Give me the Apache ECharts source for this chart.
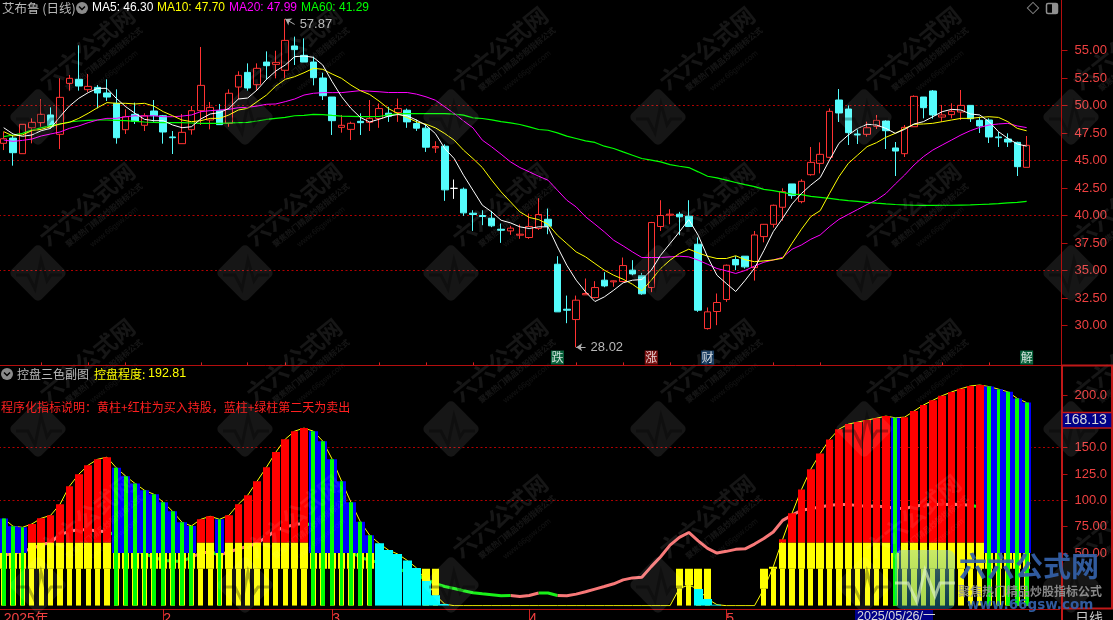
<!DOCTYPE html>
<html>
<head>
<meta charset="utf-8">
<style>html,body{margin:0;padding:0;background:#000;overflow:hidden}#c{width:1113px;height:620px}</style>
<script src="https://cdn.jsdelivr.net/npm/echarts@6/dist/echarts.min.js"></script>
</head>
<body>
<div id="c"></div>
<script>
var categories = [
'2025/01/03','2025/01/06','2025/01/07','2025/01/08','2025/01/09','2025/01/10','2025/01/13','2025/01/14','2025/01/15','2025/01/16','2025/01/17','2025/01/20','2025/01/21','2025/01/22','2025/01/23','2025/01/24','2025/01/27',
'2025/02/05','2025/02/06','2025/02/07','2025/02/10','2025/02/11','2025/02/12','2025/02/13','2025/02/14','2025/02/17','2025/02/18','2025/02/19','2025/02/20','2025/02/21','2025/02/24','2025/02/25','2025/02/26','2025/02/27','2025/02/28',
'2025/03/03','2025/03/04','2025/03/05','2025/03/06','2025/03/07','2025/03/10','2025/03/11','2025/03/12','2025/03/13','2025/03/14','2025/03/17','2025/03/18','2025/03/19','2025/03/20','2025/03/21','2025/03/24','2025/03/25','2025/03/26','2025/03/27','2025/03/28','2025/03/31',
'2025/04/01','2025/04/02','2025/04/03','2025/04/07','2025/04/08','2025/04/09','2025/04/10','2025/04/11','2025/04/14','2025/04/15','2025/04/16','2025/04/17','2025/04/18','2025/04/21','2025/04/22','2025/04/23','2025/04/24','2025/04/25','2025/04/28','2025/04/29','2025/04/30',
'2025/05/06','2025/05/07','2025/05/08','2025/05/09','2025/05/12','2025/05/13','2025/05/14','2025/05/15','2025/05/16','2025/05/19','2025/05/20','2025/05/21','2025/05/22','2025/05/23','2025/05/26','2025/05/27','2025/05/28','2025/05/29','2025/05/30',
'2025/06/03','2025/06/04','2025/06/05','2025/06/06','2025/06/09','2025/06/10','2025/06/11','2025/06/12','2025/06/13','2025/06/16','2025/06/17','2025/06/18','2025/06/19','2025/06/20',
' ','  ','   '];

// [open, close, low, high]
var candles = [
[46.56,46.98,45.95,47.62],[47.04,45.71,44.53,47.32],[45.62,48.29,45.62,48.29],[47.98,48.47,46.56,48.83],[48.44,49.20,48.07,50.59],[49.14,48.07,47.92,49.83],[47.38,50.74,46.04,52.47],[52.01,52.47,51.35,52.77],[52.38,51.77,51.35,55.47],[51.44,51.74,51.23,52.86],
[51.65,51.14,49.74,51.86],[51.14,50.77,50.41,52.38],[50.20,47.07,46.53,51.47],[47.80,48.98,47.41,49.65],[49.20,48.56,48.32,50.26],[48.20,49.07,47.68,49.29],[49.50,49.07,48.53,50.50],[49.07,47.59,46.53,49.14],[47.14,47.07,45.59,47.68],[46.53,47.56,46.53,49.23],
[47.80,49.53,47.35,49.95],[49.53,51.83,48.23,55.32],[48.68,49.83,47.83,50.32],[49.53,48.26,48.23,50.14],[48.38,51.11,48.07,51.47],[51.68,52.74,50.56,53.11],[53.01,51.59,51.35,53.83],[51.89,53.38,51.41,53.83],[53.95,53.62,52.32,54.92],[53.74,53.92,52.47,54.98],
[53.20,55.92,52.47,57.87],[55.41,55.08,53.68,56.26],[54.56,53.95,53.95,56.10],[53.95,52.53,51.83,54.44],[52.50,50.89,50.50,52.98],[50.77,48.62,47.32,50.77],[48.01,48.20,47.53,49.14],[47.83,48.38,46.86,48.53],[48.56,48.44,47.32,49.29],[48.47,48.83,47.68,50.50],
[48.82,49.72,47.97,50.18],[49.30,49.03,48.51,49.88],[49.36,49.72,48.51,50.63],[49.57,48.51,47.97,49.72],[48.36,47.94,47.69,48.72],[47.94,46.21,45.78,48.27],[46.15,46.27,45.69,46.75],[46.30,42.33,41.33,46.48],[42.47,42.47,41.51,43.27],[42.39,40.24,39.97,42.54],
[40.21,40.09,38.60,40.48],[40.00,39.91,39.12,40.48],[39.75,39.06,38.94,40.42],[38.75,38.66,37.51,39.27],[38.60,38.85,38.24,39.06],[38.21,38.30,37.88,39.18],[38.00,39.00,37.88,40.18],[38.82,40.09,38.69,41.57],[39.66,39.03,38.30,40.63],[35.57,31.24,31.24,36.30],
[31.48,31.39,30.21,32.72],[30.54,32.30,28.02,32.72],[32.79,32.91,32.79,34.27],[32.54,33.45,32.45,34.03],[34.12,33.60,33.48,34.85],[33.97,34.06,33.52,34.09],[34.00,35.45,33.94,36.18],[35.03,34.69,34.57,35.94],[34.54,32.88,32.79,34.78],[33.45,39.36,33.03,39.42],
[39.00,40.00,38.60,41.39],[40.03,40.12,39.21,40.57],[40.12,39.88,38.21,40.33],[39.94,39.00,38.97,41.39],[37.39,31.39,31.24,38.00],[29.72,31.24,29.63,31.64],[31.27,32.09,30.03,32.91],[32.36,35.48,32.15,35.54],[36.00,35.51,35.03,36.30],[36.30,35.33,35.18,36.30],
[35.26,38.23,34.08,38.59],[38.08,39.20,37.56,39.23],[39.20,40.93,38.90,40.99],[40.75,42.17,39.53,42.47],[42.87,41.81,41.53,42.87],[41.26,43.11,41.11,43.29],[43.71,44.83,43.62,46.23],[44.74,45.56,43.83,46.65],[45.29,49.47,45.20,49.74],[50.50,49.32,48.50,51.50],
[49.68,47.53,46.41,50.01],[47.41,47.32,46.50,47.83],[47.38,47.98,47.17,48.53],[48.11,48.65,47.86,49.14],[48.59,47.71,46.04,48.68],[46.14,45.86,43.59,46.68],[45.62,48.01,45.32,48.23],[48.07,50.83,48.07,50.92],[50.77,49.80,48.83,50.77],[51.32,49.14,48.80,51.41],
[48.95,49.14,48.53,50.05],[49.17,49.47,48.83,50.20],[49.41,50.01,48.68,51.41],[50.01,48.80,48.50,50.01],[48.65,48.14,47.50,48.98],[48.68,47.14,46.59,48.83],[47.14,47.07,46.23,47.59],[46.95,46.68,46.23,47.47],[46.65,44.44,43.59,46.71],[44.38,46.38,44.38,47.23]];

var ma5 = [47.98,47.41,47.2,47.32,47.71,47.92,48.98,49.95,50.65,51.17,51.56,51.56,50.65,49.89,49.29,48.74,48.62,48.62,48.23,47.98,48.07,48.77,49.23,49.35,49.74,50.59,50.68,51.41,52.38,53.14,53.68,54.44,54.5,54.38,53.68,52.17,50.8,49.74,48.92,48.5,
48.75,49.03,49.18,49.06,48.67,48.21,47.45,46.09,45.18,43.66,42.3,40.94,40.33,39.57,39.33,38.97,38.82,38.97,38.97,37.15,35.48,34.12,33.06,32.18,32.6,33.21,33.88,34.12,34.18,35.03,36.39,37.45,38.51,39.63,38.21,36.24,34.57,33.82,33.09,34.1,
35.2,36.81,38.53,39.75,41.05,42.0,42.77,43.44,45.04,46.56,47.32,47.92,48.29,48.23,47.92,47.47,47.83,48.32,48.53,48.98,49.44,49.65,49.59,49.23,49.14,48.53,47.62,47.01,46.5,46.30];
var ma10 = [47.62,47.23,47.32,47.71,47.83,48.07,48.32,48.47,48.83,49.29,49.8,50.26,50.2,50.2,50.14,50.2,49.95,49.44,49.07,48.68,48.53,48.62,48.83,48.83,49.14,49.59,49.74,50.35,50.95,51.77,52.38,52.62,52.98,53.38,53.29,52.86,52.47,51.86,51.35,51.0,
50.4,49.72,49.27,48.9,48.51,48.3,47.97,47.45,46.85,45.94,45.18,44.36,43.21,42.15,41.24,40.33,39.82,39.63,39.21,38.21,37.45,36.69,36.24,35.63,35.03,34.57,34.21,33.75,33.15,34.12,35.18,35.94,36.54,36.94,36.6,36.3,36.09,36.09,36.34,35.98,
35.8,35.87,35.96,36.11,37.47,38.75,39.9,40.44,42.01,43.53,44.74,45.5,46.26,46.62,47.11,47.47,47.92,48.29,48.32,48.38,48.53,48.68,48.83,48.83,48.92,48.98,48.92,48.53,47.92,47.70];
var ma20 = [46.86,46.74,46.83,46.95,47.23,47.41,47.59,47.92,48.14,48.44,48.68,48.83,48.83,48.98,49.07,49.04,49.07,48.98,48.98,49.04,49.14,49.44,49.53,49.59,49.65,49.8,49.83,49.95,50.11,50.14,50.35,50.59,50.95,51.11,51.17,51.17,51.17,51.26,51.35,51.3,
51.25,51.18,51.18,51.18,51.03,50.79,50.48,49.88,49.27,48.6,47.97,46.85,46.24,45.57,44.88,44.36,43.97,43.57,43.21,42.3,41.39,40.78,39.88,39.21,38.51,37.75,37.24,36.69,36.18,36.18,36.18,36.24,36.3,36.24,35.94,35.57,35.18,34.97,34.73,35.0,
35.41,35.75,35.96,36.2,36.93,37.32,37.84,38.23,38.99,39.65,40.1,40.55,41.0,41.41,42.0,42.86,43.68,44.59,45.35,45.95,46.41,46.86,47.32,47.71,48.01,48.23,48.32,48.38,48.14,47.99];
var ma60 = [47.17,47.32,47.47,47.77,47.98,48.17,48.32,48.5,48.59,48.65,48.68,48.68,48.65,48.62,48.56,48.5,48.47,48.44,48.44,48.44,48.41,48.38,48.38,48.38,48.41,48.44,48.47,48.59,48.74,48.83,48.92,49.07,49.1,49.2,49.17,49.1,49.04,49.01,48.98,48.98,
49.0,49.15,49.24,49.27,49.27,49.27,49.27,49.27,49.21,49.12,48.88,48.82,48.69,48.54,48.42,48.27,48.06,47.82,47.75,47.51,47.21,47.0,46.79,46.64,46.3,46.09,45.78,45.48,45.18,45.03,44.88,44.63,44.48,44.36,43.97,43.57,43.42,43.21,43.0,42.8,
42.62,42.38,42.26,42.1,41.95,41.89,41.74,41.65,41.56,41.45,41.35,41.28,41.2,41.12,41.05,41.0,40.96,40.93,40.92,40.92,40.93,40.93,40.95,40.96,41.0,41.03,41.08,41.14,41.2,41.29];

var controlValues = [82.7,75.4,74.4,77.6,83,85.8,96.3,113.4,124.8,133.4,139,141,130.9,123,116,109.6,105.8,98.2,89.6,79.2,75.7,82,84.9,82,85.8,96.3,104.9,118.2,131.5,145.8,158.1,165.7,168.6,165.7,156.2,139.1,118.2,98.2,79.8,66.8,
59.2,52.8,49,43,35.8,23.4,10,1.5,0,0,0,0,0,0,0,0,0,0,0,0,0,0,0,0,0,0,0,0,0,0,0,0,16.5,19.5,15.8,6.4,1,0,0,0,
0,16,37,63,87.7,110.2,129.6,144.5,157.8,167.6,172.4,174.3,176.2,178,180,178.4,179,184.8,190.5,195,199.4,202.9,206,208.6,209.5,208,205.6,203,196.8,192.81];
var trendValues = [48,49.4,52,54,58,60,67.4,70.6,72,72.2,71,70.3,66.8,58,52.5,49.4,46,43,42.4,42,46,50,51,48.4,51,54,56.3,59.5,65,71.6,74.7,77,78,76.3,68,59,52,51,46,43,
41,38,35,32,29,25,21,18.2,16.4,14.2,12.3,11.3,10.4,9.4,9.7,8.8,9.7,12,12,9.7,9.4,11,13.2,15.7,18.2,20.8,24.5,26.4,27,37.1,46.5,57.5,64.8,69.5,61.6,54.4,50,51.6,53.5,54,
58.5,63.8,70,81,86,90.6,92,93.8,95.3,96,96,95,94.4,94.7,93.8,92.5,92.2,94.4,95.7,96,96,96.3,96,95.3,93.8,89,84,79,73,70];
// trend line colour per day: P pink, G green
var trendKinds = 'PPPPPPPPPPPPGGGGGGGGGPPGPPPPPPPPPGGGGGGGGGGGGGGGGGGGGGGPPPGGPPPPPPPPPPPPPPPPPPPPPPPPPPPPPPPPPPPPPPPPPPPPGGGGGG';
// R red+yellow, B blue+green+yellow, C cyan, D cyan+yellow, Y yellow, N nothing
var barKinds = 'BBBRRRRRRRRRBBBBBBBBBRRBRRRRRRRRRBBBBBBBCCCCCDDCNNNNNNNNNNNNNNNNNNNNNNNNYYDDCNNNNYYRRRRRRRRRRRRBRRRRRRRRRBBBBB';

var priceTicks = [30,32.5,35,37.5,40,42.5,45,47.5,50,52.5,55];
var controlTicks = [50,75,100,125,150,200];
var monthStarts = {0:'2025年',17:'2',35:'3',56:'4',77:'5',96:'6'};
var weekTicks = [4,9,13,21,26,30,40,45,50,61,66,71,82,87,100,105];
var badges = [['跌',59,'#0A7A4A'],['涨',69,'#9A1616'],['财',75,'#12406E'],['解',109,'#0A7A4A']];
var badgePrice = 27.09;
var peak = {idx:30,price:57.87}, trough = {idx:61,price:28.02};
var lastControlBox = '168.13';

var RED_LABEL='#EE4040', LINE_RED='#B40E0E', DOT_RED='#B00000';
var SANS='"Liberation Sans",Arial,sans-serif', CJK='"Noto Sans CJK SC","Noto Sans",sans-serif';

function layer(fn){var out=[];controlValues.forEach(function(v,i){var r=fn(barKinds.charAt(i),v);if(r)out.push([i,r[0],r[1]]);});return out;}
var blueLayer = layer(function(k,v){return k==='B'?[50,v]:null;});
var redLayer = layer(function(k,v){return k==='R'?[60,v]:null;});
var wideYellow = layer(function(k,v){
  if(k==='R')return [Math.min(35,v),Math.min(60,v)];
  if(k==='B')return [Math.min(35,v),50];
  if(k==='Y'||k==='D')return v>=35?[35,v]:[v,35];
  return null;});
var narrowYellow = layer(function(k,v){return 'RBYD'.indexOf(k)>=0?[0,Math.min(35,v)]:null;});
var greenLayer = layer(function(k,v){return k==='B'?[0,v]:null;});
var cyanLayer = layer(function(k,v){return (k==='C'||k==='D')?[0,v]:null;});

function columns(data,color,halfWidth,z){
  return {type:'custom',xAxisIndex:1,yAxisIndex:1,data:data,z:z,silent:true,clip:true,
    encode:{x:0,y:[1,2]},
    renderItem:function(p,api){
      var a=api.coord([api.value(0),api.value(1)]),b=api.coord([api.value(0),api.value(2)]);
      var h=halfWidth==='band'?api.size([1,0])[0]/2:halfWidth;
      var l=Math.round(a[0]-h),r=Math.round(a[0]+h);
      return {type:'rect',shape:{x:l,y:b[1],width:r-l,height:a[1]-b[1]},style:{fill:color,stroke:null}};
    }};
}
function line(data,color,ax,width,z){
  return {type:'line',data:data,xAxisIndex:ax,yAxisIndex:ax,symbol:'none',showSymbol:false,silent:true,z:z,
    lineStyle:{color:color,width:width},itemStyle:{color:color},connectNulls:false,animation:false};
}
var trendUp=[],trendDown=[];
trendValues.forEach(function(v,i){
  var k=trendKinds.charAt(i),next=trendKinds.charAt(i+1);
  trendUp.push(k==='P'||next==='P'?v:null);
  trendDown.push(k==='G'||next==='G'?v:null);
});

function T(x,y,s,fill,font,extra){
  var st={x:x,y:y,text:s,fill:fill,font:font,verticalAlign:'middle',align:'left'};
  if(extra)for(var k in extra)st[k]=extra[k];
  return {type:'text',silent:true,z:50,style:st};
}
function L(x1,y1,x2,y2,c,w){return {type:'line',silent:true,z:40,shape:{x1:x1,y1:y1,x2:x2,y2:y2},style:{stroke:c,lineWidth:w||1}};}
function chevron(cx,cy){return [
  {type:'circle',silent:true,z:50,shape:{cx:cx,cy:cy,r:6},style:{fill:'#8A8A8A'}},
  {type:'polyline',silent:true,z:51,shape:{points:[[cx-3,cy-1.5],[cx,cy+1.5],[cx+3,cy-1.5]]},style:{stroke:'#000',lineWidth:1.5,fill:null}}];}

var g=[];
var wmX=[38,245,451,658,864,1071], wmY=[-39,117,273,429,585];
wmX.forEach(function(x){wmY.forEach(function(y){
  g.push({type:'rect',silent:true,z:30,x:x,y:y,rotation:Math.PI/4,shape:{x:-21,y:-21,width:42,height:42,r:5},style:{fill:'rgba(255,255,255,0.085)'}});
  g.push({type:'polyline',silent:true,z:31,shape:{points:[[x-22,y+2],[x-10,y+2],[x-3,y+16],[x+3,y-13],[x+9,y+8],[x+13,y+2],[x+24,y+2]]},style:{stroke:'rgba(0,0,0,0.3)',lineWidth:3,fill:null}});
  var rot=Math.PI*39/180;
  g.push({type:'text',silent:true,z:30,x:x+49,y:y-69,rotation:rot,style:{text:'六六公式网',fill:'rgba(255,255,255,0.085)',font:'bold 23px '+CJK,align:'center',verticalAlign:'middle'}});
  g.push({type:'text',silent:true,z:30,x:x+66,y:y-58,rotation:rot,style:{text:'聚焦热门精品炒股指标公式',fill:'rgba(255,255,255,0.085)',font:'bold 8px '+CJK,align:'center',verticalAlign:'middle'}});
  g.push({type:'text',silent:true,z:30,x:x+76,y:y-46,rotation:rot,style:{text:'www.66gsw.com',fill:'rgba(255,255,255,0.07)',font:'8px '+SANS,align:'center',verticalAlign:'middle'}});
});});
g.push(L(1061.5,0,1061.5,365,LINE_RED,1));
g.push(L(0,365.5,1061,365.5,LINE_RED,1));
g.push(L(1061,365.5,1113,365.5,'#C01818',2));
g.push(L(1062,365,1062,620,'#C01818',2));
g.push(L(1112,365,1112,609,'#C01818',2));
g.push(L(1061,608.5,1113,608.5,'#C01818',2));
g.push(T(2,8,'艾布鲁 (日线)','#B8B8B8','12.5px '+CJK));
g=g.concat(chevron(82,8));
g.push(T(92,8,'MA5: 46.30','#FFFFFF','12px '+SANS));
g.push(T(157,8,'MA10: 47.70','#FFFF00','12px '+SANS));
g.push(T(229,8,'MA20: 47.99','#FF00FF','12px '+SANS));
g.push(T(301,8,'MA60: 41.29','#00FF00','12px '+SANS));
g.push({type:'rect',silent:true,z:50,x:1033,y:8,rotation:Math.PI/4,shape:{x:-4,y:-4,width:8,height:8},style:{fill:null,stroke:'#808080',lineWidth:1}});
g.push({type:'rect',silent:true,z:50,shape:{x:1046.5,y:3.5,width:11,height:10,r:1.5},style:{fill:null,stroke:'#909090',lineWidth:1.5}});
g.push({type:'rect',silent:true,z:50,shape:{x:1052,y:4,width:5,height:9},style:{fill:'#909090'}});
g=g.concat(chevron(7,374));
g.push(T(17,374,'控盘三色副图','#B8B8B8','12px '+CJK));
g.push(T(94,374,'控盘程度:','#FFFF00','12px '+CJK));
g.push(T(148,374,'192.81','#FFFF00','12.5px '+SANS));
g.push(T(1,407,'程序化指标说明：黄柱+红柱为买入持股，蓝柱+绿柱第二天为卖出','#FF2020','12px '+CJK));
g.push({type:'rect',silent:true,z:52,shape:{x:1062,y:412.5,width:50,height:15.5},style:{fill:'#000088',stroke:'#C01818',lineWidth:1.5}});
g.push(T(1064,420.5,lastControlBox,'#D8D8D8','14px '+SANS,{}));
g[g.length-1].z=53;
g.push({type:'rect',silent:true,z:52,shape:{x:855,y:610,width:78,height:10},style:{fill:'#000088'}});
g.push(T(857,617,'2025/05/26/一','#D8D8D8','12.5px '+SANS+',"Noto Sans CJK SC"'));
g[g.length-1].z=53;
g.push(T(1075,618,'日线','#C8C8C8','14px '+CJK));
g.push({type:'rect',silent:true,z:54,shape:{x:895,y:550,width:60,height:59,r:7},style:{fill:new echarts.graphic.LinearGradient(0,0,0,1,[{offset:0,color:'rgba(150,215,200,0.5)'},{offset:1,color:'rgba(30,150,190,0.4)'}])}});
g.push({type:'polyline',silent:true,z:55,shape:{points:[[895,583],[908,583],[917,602],[925,570],[935,596],[940,583],[955,583]]},style:{stroke:'rgba(225,245,200,0.65)',lineWidth:3,fill:null}});
g.push(T(959,566,'六六公式网','rgba(52,98,170,0.92)','bold 28px '+CJK));
g.push(T(958,591,'聚焦热门精品炒股指标公式','rgba(150,150,150,0.9)','bold 12px '+CJK));
g.push(T(967,605,'www.66gsw.com','rgba(52,98,170,0.92)','bold 13.5px "DejaVu Sans"',{}));
[g.length-3,g.length-2,g.length-1].forEach(function(i){g[i].z=56;});

var candleData = candles.map(function(c,i){
  if(c[0]===c[1]) return {value:c,itemStyle:{color:'#FFF',color0:'#FFF',borderColor:'#FFF',borderColor0:'#FFF',borderColorDoji:'#FFF'}};
  return c;
});
var dottedSplit={show:true,showMinLine:false,showMaxLine:false,lineStyle:{color:['rgba(0,0,0,0)',DOT_RED],type:[2,2.5],width:1}};

var option={
  backgroundColor:'#000',animation:false,
  grid:[
    {left:-1,right:53.5,top:-4.5,height:385,outerBoundsMode:'none'},
    {left:-1,right:53.5,top:368.7,height:237,outerBoundsMode:'none'}],
  xAxis:[
    {type:'category',gridIndex:0,data:categories,show:false,boundaryGap:true},
    {type:'category',gridIndex:1,data:categories,boundaryGap:true,offset:3.3,
      axisLine:{show:true,onZero:false,lineStyle:{color:LINE_RED}},
      axisTick:{show:true,length:11,alignWithLabel:true,lineStyle:{color:'#D02020'},interval:function(i){return monthStarts[i]!==undefined&&i>0;}},
      axisLabel:{show:true,interval:function(i){return monthStarts[i]!==undefined&&i<90;},margin:3,align:'left',color:RED_LABEL,fontFamily:'"Liberation Sans","Noto Sans CJK SC"',fontSize:14,
        formatter:function(v,i){return monthStarts[i]!==undefined?monthStarts[i]:'';}},
      splitLine:{show:false}},
    {type:'category',gridIndex:1,data:categories,boundaryGap:true,offset:3.3,
      axisLine:{show:false,onZero:false},
      axisLabel:{show:false},
      axisTick:{show:true,length:3,alignWithLabel:true,lineStyle:{color:'#D02020'},interval:function(i){return weekTicks.indexOf(i)>=0;}}}
  ],
  yAxis:[
    {type:'value',gridIndex:0,position:'right',min:25,max:60,interval:2.5,offset:2,scale:true,
      axisLine:{show:false},
      axisTick:{show:true,length:6,customValues:priceTicks,lineStyle:{color:LINE_RED}},
      axisLabel:{show:true,customValues:priceTicks,margin:13,align:'left',color:RED_LABEL,fontFamily:SANS,fontSize:13,formatter:function(v){return v.toFixed(2);}},
      splitLine:dottedSplit},
    {type:'value',gridIndex:1,position:'right',min:0,max:225,interval:25,offset:2,
      axisLine:{show:false},
      axisTick:{show:true,length:6,customValues:controlTicks,lineStyle:{color:LINE_RED}},
      axisLabel:{show:true,customValues:controlTicks,margin:13,align:'left',color:RED_LABEL,fontFamily:SANS,fontSize:13,formatter:function(v){return v>=100?v.toFixed(1):v.toFixed(2);}},
      splitLine:{show:true,showMinLine:false,showMaxLine:false,lineStyle:{color:['rgba(0,0,0,0)',DOT_RED],type:[2,2.5],width:1}}}
  ],
  graphic:{elements:g},
  series:[
    {type:'candlestick',name:'K',xAxisIndex:0,yAxisIndex:0,data:candleData,barWidth:7,silent:true,z:3,
      itemStyle:{color:'rgba(0,0,0,0)',color0:'#54FCFC',borderColor:'#FF3232',borderColor0:'#54FCFC',borderColorDoji:'#FF3232',borderWidth:1},
      markLine:{silent:true,animation:false,symbol:['arrow','none'],symbolSize:6,label:{show:false},lineStyle:{color:'#B0B0B0',width:1,type:'solid'},
        data:[
          [{coord:[categories[peak.idx],peak.price]},{coord:[categories[peak.idx+1],peak.price-0.5]}],
          [{coord:[categories[trough.idx],trough.price]},{coord:[categories[trough.idx+1],trough.price]}]
        ]},
      markPoint:{silent:true,animation:false,symbol:'circle',symbolSize:0,
        label:{show:true,position:'right',distance:5,color:'#B8B8B8',fontFamily:SANS,fontSize:13,formatter:function(p){return p.value.toFixed(2);}},
        data:[
          {coord:[categories[peak.idx+1],peak.price-0.5],value:peak.price},
          {coord:[categories[trough.idx+1],trough.price],value:trough.price}
        ]}
    },
    line(ma60,'#00FF00',0,1.2,5),
    line(ma20,'#FF00FF',0,1,6),
    line(ma10,'#FFFF00',0,1,7),
    line(ma5,'#FFFFFF',0,1,8),
    {type:'scatter',xAxisIndex:0,yAxisIndex:0,silent:true,z:9,symbol:'rect',symbolSize:[13,14],
      data:badges.map(function(b){return {value:[categories[b[1]],badgePrice],itemStyle:{color:b[2]},label:{show:true,position:'inside',formatter:b[0],color:'#FFF',fontFamily:CJK,fontSize:12}};})},
    line(controlValues,'#FFFF00',1,1,4),
    line(trendUp,'#F87878',1,3,5),
    line(trendDown,'#18F018',1,3,5),
    columns(blueLayer,'#0000FF','band',6),
    columns(narrowYellow,'#FFFF00',2.6,7),
    columns(wideYellow,'#FFFF00',3.8,8),
    columns(redLayer,'#FF0000',3.8,9),
    columns(greenLayer,'#00FF00',1.9,10),
    columns(cyanLayer,'#00FFFF',4.5,11)
  ]
};
echarts.init(document.getElementById('c')).setOption(option);
</script>
</body>
</html>
